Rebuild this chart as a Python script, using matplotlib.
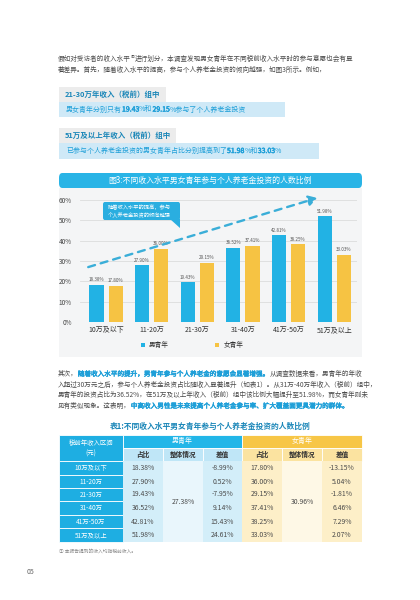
import matplotlib
matplotlib.use("Agg")
from matplotlib import pyplot as plt
from matplotlib.patches import Rectangle, FancyBboxPatch, Polygon
from matplotlib import patheffects as pe
import numpy as np

###--- Data ---###
groups = ["10万及以下", "11-20万", "21-30万", "31-40万", "41万-50万", "51万及以上"]
male = [18.38, 27.90, 19.43, 36.52, 42.81, 51.98]
female = [17.80, 36.00, 29.15, 37.41, 38.25, 33.03]
male_overall = 27.38
female_overall = 30.96
male_diff = [-8.99, 0.52, -7.95, 9.14, 15.43, 24.61]
female_diff = [-13.15, 5.04, -1.81, 6.46, 7.29, 2.07]
table_rows = ["10万及以下", "11-20万", "21-30万", "31-40万", "41万-50万", "51万及以上"]
yticks = [0, 10, 20, 30, 40, 50, 60]

FONT = ["Noto Sans CJK SC", "DejaVu Sans"]
plt.rcParams["font.family"] = FONT

BLUE = "#22b2e4"
YELLOW = "#f6c343"
DARK = "#4a4a4a"
TBLUE = "#1e9fd8"

W, H = 420, 600
fig = plt.figure(figsize=(4.2, 6), dpi=100)
fig.patch.set_facecolor("white")


def X(px):
    return px / W


def Y(py):
    return 1 - py / H


def rect(x0, y0, x1, y1, color, z=1, ec="none", lw=0):
    r = Rectangle((X(x0), Y(y1)), X(x1) - X(x0), Y(y0) - Y(y1), transform=fig.transFigure,
                  facecolor=color, edgecolor=ec, linewidth=lw, zorder=z)
    fig.add_artist(r)
    return r


renderer = fig.canvas.get_renderer()


def width(s, size):
    t = fig.text(0, 0, s, fontsize=size)
    b = t.get_window_extent(renderer=renderer).width
    t.remove()
    return b


def rich(x, y, parts, size):
    # parts: (text, color, bold?) -- bold faked with a thin stroke, real bold measures badly
    for s, c, b in parts:
        t = fig.text(X(x), Y(y), s, fontsize=size, color=c, va="center", ha="left")
        if b:
            t.set_path_effects([pe.withStroke(linewidth=0.35, foreground=c)])
        x += width("|" + s + "|", size) - width("||", size)


###--- Paragraph 1 ---###
rich(58, 59, [("假如对受访者的收入水平", DARK, False)], 4.75)
fig.text(X(130.5), Y(56.5), "①", fontsize=2.8, color=DARK, va="center")
rich(134.5, 59, [("进行划分，本调查发现男女青年在不同税前收入水平时的参与意愿也会有显", DARK, False)], 4.75)
rich(58, 70, [("著差异。首先，随着收入水平的提高，参与个人养老金投资的倾向越强，如图3所示。例如，", DARK, False)], 4.75)

###--- Highlight boxes ---###
rect(59, 87, 166, 102, "#ececec")
fig.text(X(65), Y(94.5), "21-30万年收入（税前）组中", fontsize=5.4, color="#1a86b8", weight="bold", va="center")
rect(59, 102, 285, 117, "#cfe9f7")
rich(66, 109.5, [("男女青年分别只有", TBLUE, False), ("19.43", TBLUE, True), ("%和", TBLUE, False),
                 ("29.15", TBLUE, True), ("%参与了个人养老金投资", TBLUE, False)], 5.0)

rect(59, 128, 176, 143, "#ececec")
fig.text(X(65), Y(135.5), "51万及以上年收入（税前）组中", fontsize=5.4, color="#1a86b8", weight="bold", va="center")
rect(59, 143, 319, 159, "#cfe9f7")
rich(66, 151, [("已参与个人养老金投资的男女青年占比分别提高到了", TBLUE, False), ("51.98", TBLUE, True),
               ("%和", TBLUE, False), ("33.03", TBLUE, True), ("%", TBLUE, False)], 5.0)

###--- Chart panel ---###
hdr = FancyBboxPatch((X(59), Y(188)), X(362) - X(59), Y(173) - Y(188), boxstyle="round,pad=0,rounding_size=0.008",
                     transform=fig.transFigure, facecolor="#29b4e6", edgecolor="none", zorder=1)
fig.add_artist(hdr)
fig.text(X(210), Y(180.5), "图3:不同收入水平男女青年参与个人养老金投资的人数比例", fontsize=5.7, color="white",
         ha="center", va="center")
rect(59, 188, 362, 357, "#f4f5f6", z=-1)

ax = fig.add_axes([X(80), Y(322), X(357) - X(80), Y(322 - 65 * 122 / 60) - Y(322)])
ax.set_facecolor("none")
idx = np.arange(len(groups))
bm = ax.bar(idx - 0.21, male, 0.31, color=BLUE, zorder=3, label="男青年")
bf = ax.bar(idx + 0.21, female, 0.31, color=YELLOW, zorder=3, label="女青年")
for i in range(len(groups)):
    ax.text(idx[i] - 0.21, male[i] + 1.2, "%.2f%%" % male[i], ha="center", va="bottom", fontsize=3.3, color="#555555")
    ax.text(idx[i] + 0.21, female[i] + 1.2, "%.2f%%" % female[i], ha="center", va="bottom", fontsize=3.3, color="#555555")
ax.set_xlim(-0.57, 5.5)
ax.set_ylim(0, 65)
ax.set_yticks(yticks)
ax.set_yticklabels(["%d%%" % v for v in yticks], fontsize=4.6, color="#444444")
ax.set_xticks(idx)
ax.set_xticklabels(groups, fontsize=5.0, color="#333333")
ax.tick_params(length=0, pad=3)
ax.yaxis.set_tick_params(pad=6)
for s in ax.spines.values():
    s.set_visible(False)
ax.grid(axis="y", color="#dcdcdc", linewidth=0.6, zorder=0)
ax.annotate("", xy=(4.63, 61), xytext=(-0.39, 27),
            arrowprops=dict(arrowstyle="-|>,head_length=0.5,head_width=0.3", color="#3aaed8", lw=1.7,
                            linestyle=(0, (3, 2.5)), shrinkA=0, shrinkB=0), zorder=4)
leg = fig.legend(handles=[bm, bf], loc="center", bbox_to_anchor=(X(192), Y(345)), ncol=2, frameon=False,
                 fontsize=4.8, handlelength=0.6, handleheight=0.6, columnspacing=7, handletextpad=0.6)
for t in leg.get_texts():
    t.set_color("#333333")

# callout
cb = FancyBboxPatch((X(103), Y(220)), X(180) - X(103), Y(202) - Y(220), boxstyle="round,pad=0,rounding_size=0.004",
                    transform=fig.transFigure, facecolor="#2aaee0", edgecolor="none", zorder=5)
fig.add_artist(cb)
fig.add_artist(Polygon([(X(170), Y(219)), (X(180), Y(219)), (X(180), Y(228))], closed=True,
                       transform=fig.transFigure, facecolor="#2aaee0", edgecolor="none", zorder=5))
fig.text(X(108), Y(207), "随着收入水平的提高，参与", fontsize=3.8, color="white", va="center", zorder=6)
fig.text(X(108), Y(215), "个人养老金投资的倾向越强", fontsize=3.8, color="white", va="center", zorder=6)

###--- Paragraph 2 ---###
rich(58, 374, [("其次，", DARK, False), ("随着收入水平的提升，男青年参与个人养老金的意愿会显著增强。", TBLUE, True),
               ("从调查数据来看，男青年的年收", DARK, False)], 4.75)
rich(58, 384.5, [("入超过30万元之后，参与个人养老金投资占比随收入显著提升（如表1）。从31万-40万年收入（税前）组中，", DARK, False)], 4.75)
rich(58, 395, [("男青年的投资占比为36.52%，在51万及以上年收入（税前）组中该比例大幅提升至51.98%，而女青年则未", DARK, False)], 4.75)
rich(58, 406, [("见有类似现象。这表明，", DARK, False),
               ("中高收入男性是未来提高个人养老金参与率、扩大覆盖面更具潜力的群体。", TBLUE, True)], 4.75)

###--- Table ---###
fig.text(X(210), Y(426), "表1:不同收入水平男女青年参与个人养老金投资的人数比例", fontsize=5.6, color="#1a86b8",
         weight="bold", ha="center", va="center")

cols = [59, 123, 163, 203, 242, 282, 322, 362]
rows = [435, 448, 461, 475, 488, 501, 515, 528, 542]
ec = "white"
# header
rect(cols[0], rows[0], cols[1], rows[2], "#1eaee2", ec=ec, lw=0.6)
fig.text(X(91), Y(448), "税前年收入区间\n(元)", fontsize=4.6, color="white", ha="center", va="center", linespacing=1.5)
rect(cols[1], rows[0], cols[4], rows[1], "#22b6e8", ec=ec, lw=0.6)
fig.text(X((cols[1] + cols[4]) / 2), Y(441.5), "男青年", fontsize=5.0, color="white", ha="center", va="center")
rect(cols[4], rows[0], cols[7], rows[1], "#f7c646", ec=ec, lw=0.6)
fig.text(X((cols[4] + cols[7]) / 2), Y(441.5), "女青年", fontsize=5.0, color="white", ha="center", va="center")
subs = ["占比", "整体情况", "差值"]
for k in range(6):
    c = "#bfe6f7" if k < 3 else "#fbe3a0"
    rect(cols[k + 1], rows[1], cols[k + 2], rows[2], c, ec=ec, lw=0.6)
    fig.text(X((cols[k + 1] + cols[k + 2]) / 2), Y(454.5), subs[k % 3], fontsize=4.8, color="#333333",
             weight="bold", ha="center", va="center")

# body
rect(cols[2], rows[2], cols[3], rows[8], "#e9f6fc")
rect(cols[5], rows[2], cols[6], rows[8], "#fef8e6")
for i in range(6):
    y0, y1 = rows[i + 2], rows[i + 3]
    yc = (y0 + y1) / 2
    rect(cols[0], y0, cols[1], y1, "#1eaee2", ec=ec, lw=0.6)
    fig.text(X(91), Y(yc), table_rows[i], fontsize=4.6, color="white", ha="center", va="center")
    rect(cols[1], y0, cols[2], y1, "#d3eef9")
    rect(cols[3], y0, cols[4], y1, "#d3eef9")
    rect(cols[4], y0, cols[5], y1, "#fdefc8")
    rect(cols[6], y0, cols[7], y1, "#fdefc8")
    fig.text(X(143), Y(yc), "%.2f%%" % male[i], fontsize=4.9, color=DARK, ha="center", va="center")
    fig.text(X(222.5), Y(yc), "%.2f%%" % male_diff[i], fontsize=4.9, color=DARK, ha="center", va="center")
    fig.text(X(262), Y(yc), "%.2f%%" % female[i], fontsize=4.9, color=DARK, ha="center", va="center")
    fig.text(X(342), Y(yc), "%.2f%%" % female_diff[i], fontsize=4.9, color=DARK, ha="center", va="center")
fig.text(X(183), Y(501.5), "%.2f%%" % male_overall, fontsize=4.9, color=DARK, ha="center", va="center")
fig.text(X(302), Y(501.5), "%.2f%%" % female_overall, fontsize=4.9, color=DARK, ha="center", va="center")

fig.text(X(59), Y(551.5), "① 本报告提到的收入均指税前收入。", fontsize=3.4, color="#888888", va="center")
fig.text(X(27), Y(572.5), "05", fontsize=5.0, color="#666666", va="center")

fig.savefig("out.png", dpi=100)
